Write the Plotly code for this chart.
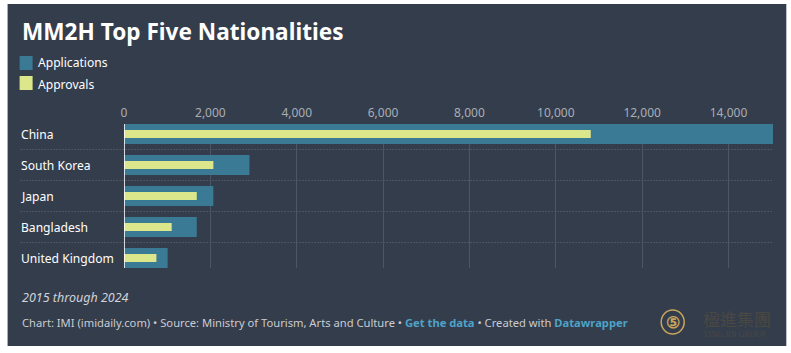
import plotly.graph_objects as go

W, H = 791, 353
categories = ["China", "South Korea", "Japan", "Bangladesh", "United Kingdom"]
applications = [15030, 2905, 2070, 1685, 1010]
approvals = [10810, 2070, 1685, 1105, 750]
tick_vals = [0, 2000, 4000, 6000, 8000, 10000, 12000, 14000]

BG = "#343d4c"
TEAL = "#3b7a95"
YELLOW = "#dce68a"
FONT = "Noto Sans, Open Sans, sans-serif"

# plot area in pixels
PL, PR, PT, PB = 124.3, 772.7, 124, 268

def px(x):
    return (x - PL) / (PR - PL)

def py(y):
    return (PB - y) / (PB - PT)

fig = go.Figure()
fig.add_trace(go.Bar(y=categories, x=applications, orientation="h", marker_color=TEAL,
                     marker_line_width=0, width=0.645, name="Applications"))
fig.add_trace(go.Bar(y=categories, x=approvals, orientation="h", marker_color=YELLOW,
                     marker_line_width=0, width=0.258, name="Approvals"))

shapes = []
# panel background
shapes.append(dict(type="rect", xref="paper", yref="paper", x0=px(8), x1=px(786), y0=py(346), y1=py(4),
                   fillcolor=BG, line_width=0, layer="below"))
# row separators
for i in range(len(categories) - 1):
    shapes.append(dict(type="line", xref="paper", yref="y", x0=px(21), x1=1, y0=i + 0.5, y1=i + 0.5,
                       line=dict(color="#646c7a", width=1, dash="1px,2px"), layer="below"))
# zero line
shapes.append(dict(type="line", xref="x", yref="paper", x0=0, x1=0, y0=0, y1=1,
                   line=dict(color="#ffffff", width=1.6), layer="above"))
# legend swatches
shapes.append(dict(type="rect", xref="paper", yref="paper", x0=px(20), x1=px(33), y0=py(70), y1=py(56),
                   fillcolor=TEAL, line_width=0))
shapes.append(dict(type="rect", xref="paper", yref="paper", x0=px(20), x1=px(33), y0=py(90), y1=py(76),
                   fillcolor=YELLOW, line_width=0))
# logo circle
shapes.append(dict(type="circle", xref="paper", yref="paper", x0=px(661), x1=px(684), y0=py(334), y1=py(310),
                   line=dict(color="#c9a45c", width=1.5)))

ann = []
def text(x, y, s, size, color, xanchor="left", yanchor="middle", family=FONT, **kw):
    ann.append(dict(xref="paper", yref="paper", x=px(x), y=py(y), text=s, showarrow=False,
                    xanchor=xanchor, yanchor=yanchor, font=dict(size=size, color=color, family=family), **kw))

text(20, 31, "<b>MM2H Top Five Nationalities</b>", 22.6, "#ffffff")
text(36, 63, "Applications", 12.1, "#ffffff")
text(36, 84, "Approvals", 12.1, "#ffffff")
for i, c in enumerate(categories):
    ann.append(dict(xref="paper", yref="y", x=px(19.5), y=c, text=c, showarrow=False, xanchor="left",
                    yanchor="middle", font=dict(size=12.1, color="#ffffff", family=FONT)))
text(20, 297, "<i>2015 through 2024</i>", 12.5, "#d0d3d8")
text(20, 322, "Chart: IMI (imidaily.com) • Source: Ministry of Tourism, Arts and Culture • "
              "<b><span style='color:#4ea3c8'>Get the data</span></b> • Created with "
              "<b><span style='color:#4ea3c8'>Datawrapper</span></b>", 11.2, "#c9ccd2")
# logo texts
text(672.5, 322, "<b>⑤</b>", 16, "#c9a45c", xanchor="center")
text(701, 318, "楹進集團", 17, "#4a4843", family="Noto Sans CJK TC")
text(701, 334, "YING JIN GROUP", 8, "#4a4843", family="Liberation Serif")

fig.update_layout(
    width=W, height=H,
    margin=dict(l=PL, r=W - PR, t=PT, b=H - PB, pad=0),
    paper_bgcolor="#ffffff", plot_bgcolor=BG,
    barmode="overlay", showlegend=False,
    shapes=shapes, annotations=ann,
    font=dict(family=FONT),
    xaxis=dict(side="top", range=[0, 15030], tickvals=tick_vals, tickformat=",",
               tickfont=dict(size=12, color="#a9aeb6"), showgrid=True, gridcolor="#4d5665",
               gridwidth=1, zeroline=False, showline=False, ticks="", ticklabelstandoff=4),
    yaxis=dict(categoryorder="array", categoryarray=categories, range=[4.3226, -0.3226],
               showticklabels=False, showgrid=False, zeroline=False, showline=False),
)
fig.write_html("out.html")
